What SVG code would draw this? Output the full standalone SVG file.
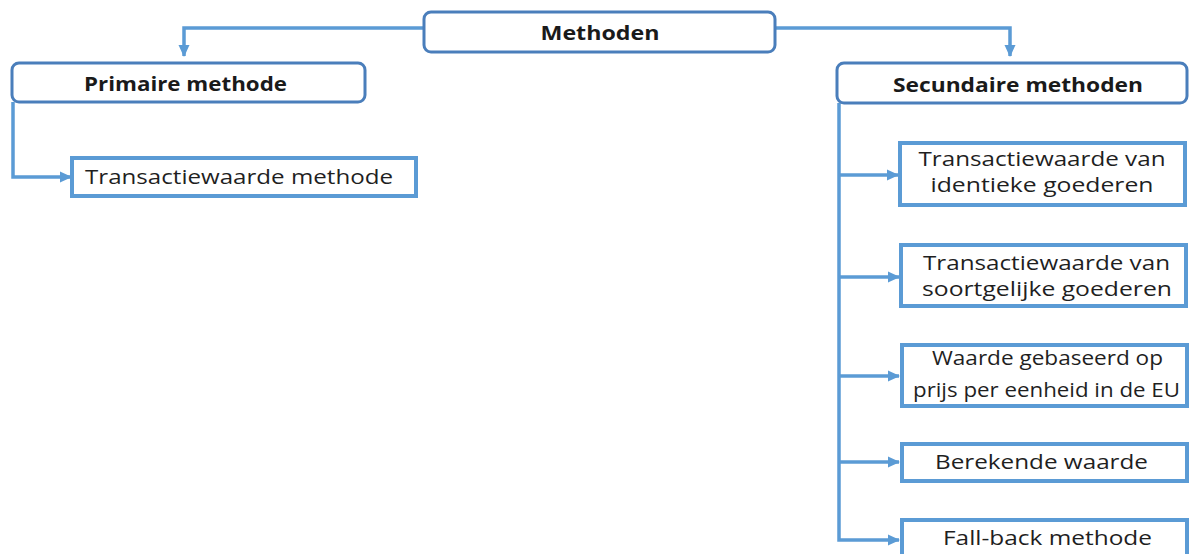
<svg xmlns="http://www.w3.org/2000/svg" width="1190" height="554" viewBox="0 0 1190 554">
<defs>
<marker id="arr" markerWidth="12" markerHeight="12" refX="11" refY="6" orient="auto" markerUnits="userSpaceOnUse">
<path d="M0,0.5 L12,6 L0,11.5 Z" fill="#5b9bd5"/>
</marker>
<style>
.hd{fill:#fff;stroke:#4a7ebb;stroke-width:3}
.bx{fill:#fff;stroke:#5b9bd5;stroke-width:4}
.con{fill:none;stroke:#5b9bd5;stroke-width:3.5;marker-end:url(#arr)}
.tb{font-family:"Open Sans","Noto Sans","DejaVu Sans",sans-serif;font-weight:bold;font-size:20px;fill:#1a1a1a;text-anchor:middle}
.t{font-family:"Open Sans","Noto Sans","DejaVu Sans",sans-serif;font-size:20.5px;fill:#1f1f1f;text-anchor:middle}
</style>
</defs>
<rect width="1190" height="554" fill="#fff"/>
<g id="connectors">
<path class="con" d="M424,28 H184 V56"/>
<path class="con" d="M776,28 H1010 V56"/>
<path class="con" d="M13,102 V177 H71"/>
<path class="con" d="M839,103 V540 H899"/>
<path class="con" d="M839,175 H898"/>
<path class="con" d="M839,277 H899"/>
<path class="con" d="M839,376 H899"/>
<path class="con" d="M839,462 H899"/>
</g>
<g id="methoden">
<rect class="hd" x="424" y="12" width="351" height="40" rx="7"/>
<text class="tb" x="600" y="40" textLength="119" lengthAdjust="spacingAndGlyphs">Methoden</text>
</g>
<g id="primaire">
<rect class="hd" x="12" y="63" width="353" height="39" rx="7"/>
<text class="tb" x="185.5" y="91" textLength="203" lengthAdjust="spacingAndGlyphs">Primaire methode</text>
</g>
<g id="transactiewaarde-methode">
<rect class="bx" x="72" y="158" width="344" height="38"/>
<text class="t" x="239" y="184" textLength="308" lengthAdjust="spacingAndGlyphs">Transactiewaarde methode</text>
</g>
<g id="secundaire">
<rect class="hd" x="837" y="63" width="350" height="40" rx="7"/>
<text class="tb" x="1018" y="92" textLength="250" lengthAdjust="spacingAndGlyphs">Secundaire methoden</text>
</g>
<g id="identieke">
<rect class="bx" x="900" y="143" width="285" height="62"/>
<text class="t" x="1042" y="166" textLength="247" lengthAdjust="spacingAndGlyphs">Transactiewaarde van</text>
<text class="t" x="1042" y="192" textLength="223" lengthAdjust="spacingAndGlyphs">identieke goederen</text>
</g>
<g id="soortgelijke">
<rect class="bx" x="901" y="245" width="285" height="61"/>
<text class="t" x="1046.5" y="270" textLength="247" lengthAdjust="spacingAndGlyphs">Transactiewaarde van</text>
<text class="t" x="1047" y="296" textLength="250" lengthAdjust="spacingAndGlyphs">soortgelijke goederen</text>
</g>
<g id="eenheidsprijs">
<rect class="bx" x="902" y="345" width="285" height="61"/>
<text class="t" x="1047.5" y="365" textLength="231" lengthAdjust="spacingAndGlyphs">Waarde gebaseerd op</text>
<text class="t" x="1046.5" y="397" textLength="267" lengthAdjust="spacingAndGlyphs">prijs per eenheid in de EU</text>
</g>
<g id="berekende">
<rect class="bx" x="902" y="444" width="285" height="37"/>
<text class="t" x="1041.5" y="469" textLength="213" lengthAdjust="spacingAndGlyphs">Berekende waarde</text>
</g>
<g id="fallback">
<rect class="bx" x="902" y="520" width="285" height="40"/>
<text class="t" x="1047.5" y="545" textLength="209" lengthAdjust="spacingAndGlyphs">Fall-back methode</text>
</g>
</svg>
